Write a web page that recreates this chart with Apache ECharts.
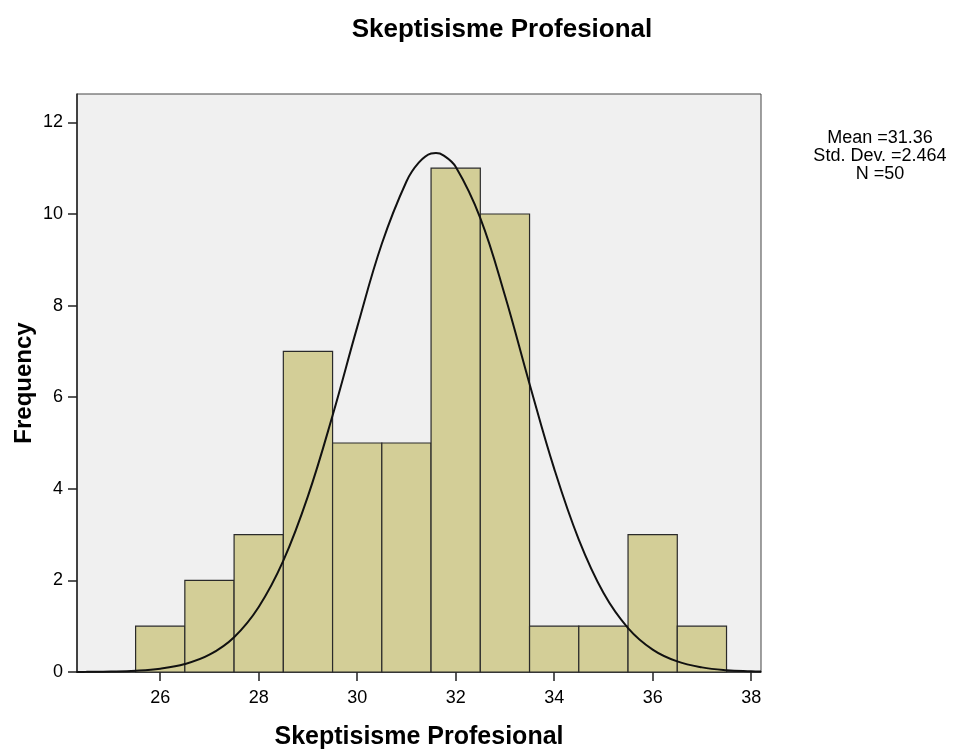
<!DOCTYPE html>
<html>
<head>
<meta charset="utf-8">
<script src="https://cdn.jsdelivr.net/npm/echarts@6/dist/echarts.min.js"></script>
<style>
html,body{margin:0;padding:0;background:#fff;}
#chart{width:955px;height:752px;}
</style>
</head>
<body>
<div id="chart"></div>
<script>
// Histogram bins (lower edge, upper edge) and frequencies
var binLow  = [25.5, 26.5, 27.5, 28.5, 29.5, 30.5, 31.5, 32.5, 33.5, 34.5, 35.5, 36.5];
var binHigh = [26.5, 27.5, 28.5, 29.5, 30.5, 31.5, 32.5, 33.5, 34.5, 35.5, 36.5, 37.5];
var freq    = [1, 2, 3, 7, 5, 5, 11, 10, 1, 1, 3, 1];

// Normal curve points
var curveX = [24.3, 24.5, 25, 25.5, 26, 26.5, 27, 27.5, 28, 28.5, 29, 29.5, 30, 30.5, 31, 31.25, 31.5, 31.6, 31.75, 32, 32.5, 33, 33.5, 34, 34.5, 35, 35.5, 36, 36.5, 37, 37.5, 38, 38.2];
var curveY = [0.002, 0.003, 0.010, 0.028, 0.073, 0.173, 0.377, 0.76, 1.42, 2.43, 3.84, 5.60, 7.53, 9.35, 10.71, 11.12, 11.32, 11.33, 11.28, 11.03, 9.91, 8.22, 6.29, 4.44, 2.89, 1.73, 0.96, 0.49, 0.231, 0.101, 0.040, 0.015, 0.009];

var xTicks = [26, 28, 30, 32, 34, 36, 38];
var yTicks = [0, 2, 4, 6, 8, 10, 12];

var titleText = 'Skeptisisme Profesional';
var xName = 'Skeptisisme Profesional';
var yName = 'Frequency';
var statsLines = ['Mean =31.36', 'Std. Dev. =2.464', 'N =50'];

var barData = binLow.map(function (lo, i) { return [lo, binHigh[i], freq[i]]; });
var curveData = curveX.map(function (x, i) { return [x, curveY[i]]; });

var FONT = '"Liberation Sans", Arial, sans-serif';

var chart = echarts.init(document.getElementById('chart'));
chart.setOption({
  animation: false,
  backgroundColor: '#ffffff',
  title: {
    text: titleText,
    left: 497, top: 12, textAlign: 'center',
    textStyle: { fontFamily: FONT, fontSize: 26, fontWeight: 'bold', color: '#000' }
  },
  grid: {
    left: 77, top: 94, right: 194, bottom: 80,
    outerBoundsMode: 'none', containLabel: false,
    show: true, backgroundColor: '#f0f0f0', borderColor: '#444', borderWidth: 1
  },
  xAxis: {
    type: 'value', min: 24.31, max: 38.2,
    name: xName, nameLocation: 'middle', nameGap: 53, nameMoveOverlap: false,
    nameTextStyle: { fontFamily: FONT, fontSize: 25, fontWeight: 'bold', color: '#000' },
    axisLine: { show: true, onZero: false, lineStyle: { color: '#222', width: 1.5 } },
    axisTick: { show: true, length: 9, customValues: xTicks, lineStyle: { color: '#222', width: 1.5 } },
    axisLabel: { customValues: xTicks, margin: 17, fontFamily: FONT, fontSize: 18, color: '#000' },
    splitLine: { show: false }
  },
  yAxis: {
    type: 'value', min: 0, max: 12.62,
    name: yName, nameLocation: 'middle', nameGap: 41, nameRotate: 90, nameMoveOverlap: false,
    nameTextStyle: { fontFamily: FONT, fontSize: 24, fontWeight: 'bold', color: '#000' },
    axisLine: { show: true, lineStyle: { color: '#222', width: 1.5 } },
    axisTick: { show: true, length: 9, customValues: yTicks, lineStyle: { color: '#222', width: 1.5 } },
    axisLabel: { customValues: yTicks, margin: 14, fontFamily: FONT, fontSize: 18, color: '#000' },
    splitLine: { show: false }
  },
  series: [
    {
      type: 'custom',
      data: barData,
      encode: { x: [0, 1], y: 2 },
      renderItem: function (params, api) {
        var p0 = api.coord([api.value(0), 0]);
        var p1 = api.coord([api.value(1), api.value(2)]);
        return {
          type: 'rect',
          shape: { x: p0[0], y: p1[1], width: p1[0] - p0[0], height: p0[1] - p1[1] },
          style: { fill: '#d3ce97', stroke: '#2a2a2a', lineWidth: 1.2 }
        };
      },
      z: 2
    },
    {
      type: 'line',
      data: curveData,
      smooth: 0.4,
      showSymbol: false,
      lineStyle: { color: '#111', width: 2 },
      z: 3
    }
  ],
  graphic: [
    {
      type: 'text', x: 880, y: 129,
      style: {
        text: statsLines.join('\n'),
        fontFamily: FONT, fontSize: 18, lineHeight: 18,
        fill: '#000', align: 'center', textAlign: 'center', verticalAlign: 'top'
      }
    }
  ]
});
</script>
</body>
</html>
